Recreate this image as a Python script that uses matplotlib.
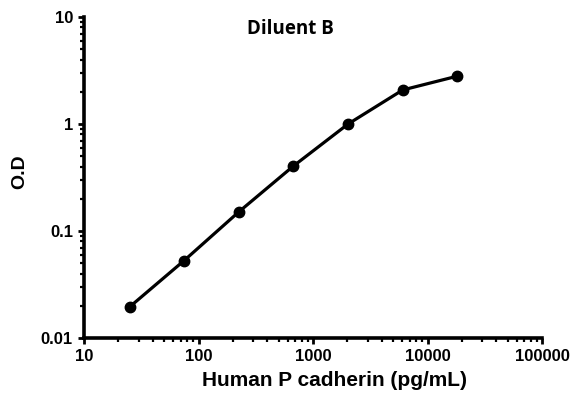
import matplotlib
matplotlib.use("Agg")
import matplotlib.pyplot as plt
from matplotlib.ticker import LogLocator, FixedLocator, NullFormatter

conc = [25, 75, 225, 675, 2025, 6075, 18225]
od = [0.0195, 0.053, 0.151, 0.405, 1.0, 2.08, 2.8]
x_ticks = [10, 100, 1000, 10000, 100000]
x_labels = ["10", "100", "1000", "10000", "100000"]
y_ticks = [0.01, 0.1, 1, 10]
y_labels = ["0.01", "0.1", "1", "10"]

W, H = 579, 398
plt.rcParams['font.family'] = ['Liberation Sans', 'DejaVu Sans']
fig = plt.figure(figsize=(W / 100, H / 100), dpi=100)
ax = fig.add_axes([84 / W, 1 - 338 / H, (542 - 84) / W, (338 - 17) / H])
ax.set_xscale('log')
ax.set_yscale('log')
ax.plot(conc, od, color='black', lw=2.3, marker='o', ms=7.5, solid_capstyle='round')
ax.set_xlim(10, 100000)
ax.set_ylim(0.01, 10)
for s in ['top', 'right']:
    ax.spines[s].set_visible(False)
for s in ['left', 'bottom']:
    ax.spines[s].set_linewidth(2.6)
ax.xaxis.set_major_locator(FixedLocator(x_ticks))
ax.set_xticklabels(x_labels)
ax.yaxis.set_major_locator(FixedLocator(y_ticks))
ax.set_yticklabels(y_labels)
ax.xaxis.set_minor_locator(LogLocator(base=10, subs=range(2, 10)))
ax.yaxis.set_minor_locator(LogLocator(base=10, subs=range(2, 10)))
ax.xaxis.set_minor_formatter(NullFormatter())
ax.yaxis.set_minor_formatter(NullFormatter())
ax.tick_params(which='major', length=4, width=2, labelsize=12, pad=4)
ax.tick_params(which='minor', length=3, width=1.6)
for lab in ax.get_xticklabels() + ax.get_yticklabels():
    lab.set_fontweight('bold')
fig.text(334 / W, 1 - 381 / H, "Human P cadherin (pg/mL)", ha='center', va='center',
         fontsize=15, fontweight='bold')
fig.text(20 / W, 1 - 172 / H, "O.D", ha='center', va='center', rotation=90,
         fontsize=14, fontweight='bold')
ax.text(0.45, 0.995, "Diluent B", transform=ax.transAxes, ha='center', va='top',
        fontsize=13.5, fontweight='bold', family=['Open Sans', 'DejaVu Sans'])
fig.savefig("out.png", dpi=100)
